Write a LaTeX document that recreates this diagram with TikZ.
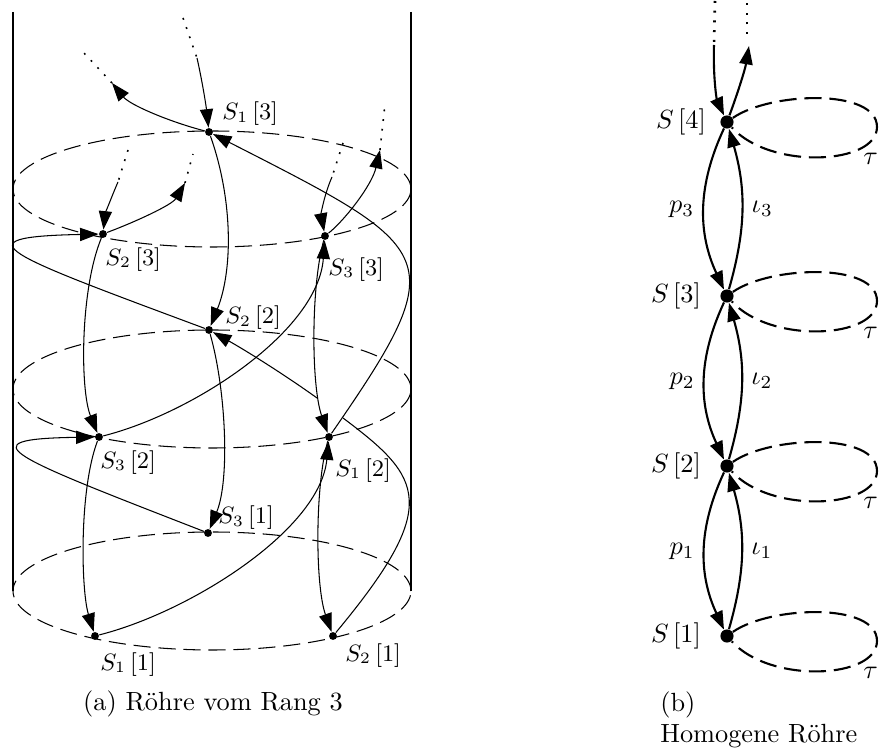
\documentclass[tikz,border=0pt]{standalone}
\usepackage{amsmath}
\usetikzlibrary{arrows.meta,positioning}

\begin{document}
\begin{tikzpicture}[
    x=0.38pt, y=0.38pt,
    vertex/.style={circle, fill, inner sep=0pt, minimum size=3pt},
    bigvertex/.style={circle, fill, inner sep=0pt, minimum size=5pt},
    lbl/.style={inner sep=1pt, font=\small},
    hlbl/.style={inner sep=1pt},
    arrow/.style={-{Triangle[length=7pt, width=5pt]}},
    cont/.style={line width=0.6pt, dash pattern=on 0.7pt off 3pt},
    ring/.style={dash pattern=on 6.5pt off 3pt},
    wall/.style={thick},
    hom/.style={thick}
  ]
  \useasboundingbox (0,0) rectangle (879,-754);

  \draw[wall] (13,-12) -- (13,-591);
  \draw[wall] (411,-12) -- (411,-591);
  \draw[ring] (212,-189) ellipse [x radius=199, y radius=58];
  \draw[ring] (212,-389) ellipse [x radius=199, y radius=59];
  \draw[ring] (212,-591) ellipse [x radius=199, y radius=59];

  \node[vertex] (s13) at (209,-132) {};
  \node[vertex] (s23) at (103,-234) {};
  \node[vertex] (s33) at (325,-236) {};
  \node[vertex] (s22) at (209,-330) {};
  \node[vertex] (s32) at (99,-437) {};
  \node[vertex] (s12) at (329,-437) {};
  \node[vertex] (s31) at (208,-533) {};
  \node[vertex] (s11) at (95,-636) {};
  \node[vertex] (s21) at (333,-636) {};

  \node[lbl, above right=0pt and 2.7pt of s13] (l13) {$S_1\,[3]$};
  \node[lbl, below right=2.7pt and -1.5pt of s23] (l23) {$S_2\,[3]$};
  \node[lbl, below right=5.7pt and -1.1pt of s33] (l33) {$S_3\,[3]$};
  \node[lbl, above right=-2.3pt and 3.8pt of s22] (l22) {$S_2\,[2]$};
  \node[lbl, below right=2.7pt and -1.9pt of s32] (l32) {$S_3\,[2]$};
  \node[lbl, below right=5.7pt and 0pt of s12] (l12) {$S_1\,[2]$};
  \node[lbl, above right=-1.1pt and 1.5pt of s31] (l31) {$S_3\,[1]$};
  \node[lbl, below right=3.8pt and -0.4pt of s11] (l11) {$S_1\,[1]$};
  \node[lbl, below right=0.4pt and 2.3pt of s21] (l21) {$S_2\,[1]$};

  \coordinate (a13) at (183,-18);
  \coordinate (b13) at (197,-58);
  \coordinate (a23) at (128,-150);
  \coordinate (b23) at (118,-182);
  \coordinate (a33) at (343,-143);
  \coordinate (b33) at (332,-177);
  \coordinate (c13) at (112,-83);
  \coordinate (d13) at (83,-52);
  \coordinate (c23) at (185,-183);
  \coordinate (d23) at (193,-154);
  \coordinate (c33) at (380,-150);
  \coordinate (d33) at (385,-104);
  \coordinate (g1) at (343,-418);
  \coordinate (g2) at (317,-398);

  \draw[cont] (a13) -- (b13);
  \draw[arrow] (b13) .. controls (202,-80) and (206,-105) .. (s13);
  \draw[cont] (a23) -- (b23);
  \draw[arrow] (b23) .. controls (111,-198) and (105,-215) .. (s23);
  \draw[cont] (a33) -- (b33);
  \draw[arrow] (b33) .. controls (324,-195) and (321,-215) .. (s33);

  \draw[arrow] (s13) .. controls (233,-200) and (233,-270) .. (s22);
  \draw[arrow] (s22) .. controls (226,-390) and (230,-480) .. (s31);
  \draw[arrow] (s23) .. controls (80,-290) and (80,-390) .. (s32);
  \draw[arrow] (s32) .. controls (79,-490) and (81,-590) .. (s11);
  \draw[arrow] (s33) .. controls (311,-285) and (311,-385) .. (s12);
  \draw[arrow] (s12) .. controls (315,-485) and (315,-585) .. (s21);

  \draw[arrow] (s13) .. controls (170,-122) and (130,-105) .. (c13);
  \draw[cont] (c13) -- (d13);
  \draw[arrow] (s23) .. controls (135,-222) and (172,-205) .. (c23);
  \draw[cont] (c23) -- (d23);
  \draw[arrow] (s33) .. controls (345,-220) and (372,-185) .. (c33);
  \draw[cont] (c33) -- (d33);

  \draw[arrow] (s11) .. controls (190,-612) and (320,-530) .. (s12);
  \draw[arrow] (s32) .. controls (194,-413) and (318,-331) .. (s33);
  \draw[arrow] (s12) .. controls (455,-255) and (440,-250) .. (s13);
  \draw (s21) .. controls (442,-505) and (423,-478) .. (g1);
  \draw[arrow] (g2) .. controls (285,-375) and (245,-350) .. (s22);
  \draw[arrow] (s22) .. controls (5,-254) and (-44,-237) .. (s23);
  \draw[arrow] (s31) .. controls (10,-456) and (-36,-439) .. (s32);

  \node[anchor=base] (capa) at (213,-711) {(a) Röhre vom Rang 3};

  \node[bigvertex] (n4) at (727,-122) {};
  \node[bigvertex] (n3) at (727,-296) {};
  \node[bigvertex] (n2) at (727,-466) {};
  \node[bigvertex] (n1) at (727,-636) {};

  \node[hlbl, left=4.1pt of n4] (m4) {$S\,[4]$};
  \node[hlbl, left=6pt of n3] (m3) {$S\,[3]$};
  \node[hlbl, left=6pt of n2] (m2) {$S\,[2]$};
  \node[hlbl, left=6pt of n1] (m1) {$S\,[1]$};

  \coordinate (ta) at (715,-1);
  \coordinate (tb) at (714,-45);
  \coordinate (tc) at (749,-46);
  \coordinate (td) at (747,-34);
  \coordinate (te) at (747,-1);
  \draw[hom, cont, line width=1pt] (ta) -- (tb);
  \draw[hom, arrow] (tb) .. controls (713,-80) and (717,-100) .. (n4);
  \draw[hom, arrow] (n4) .. controls (737,-95) and (745,-70) .. (tc);
  \draw[hom, cont, line width=1pt] (td) -- (te);

  \draw[hom, arrow] (n4) to[bend right=25] node[left] (p3) {$p_3$} (n3);
  \draw[hom, arrow] (n3) to[bend right=16] node[right] (i3) {$\iota_3$} (n4);
  \draw[hom, arrow] (n3) to[bend right=25] node[left] (p2) {$p_2$} (n2);
  \draw[hom, arrow] (n2) to[bend right=16] node[right] (i2) {$\iota_2$} (n3);
  \draw[hom, arrow] (n2) to[bend right=25] node[left] (p1) {$p_1$} (n1);
  \draw[hom, arrow] (n1) to[bend right=16] node[right] (i1) {$\iota_1$} (n2);

  \draw[hom, ring] (n4) .. controls (770,-92) and (877,-88) .. (877,-127)
    .. controls (877,-165) and (770,-170)
    .. node[pos=0.25, anchor=north west, inner sep=1pt] (t4) {$\tau$} (n4);
  \draw[hom, ring] (n3) .. controls (770,-266) and (877,-262) .. (877,-301)
    .. controls (877,-339) and (770,-344)
    .. node[pos=0.25, anchor=north west, inner sep=1pt] (t3) {$\tau$} (n3);
  \draw[hom, ring] (n2) .. controls (770,-436) and (877,-432) .. (877,-471)
    .. controls (877,-509) and (770,-514)
    .. node[pos=0.25, anchor=north west, inner sep=1pt] (t2) {$\tau$} (n2);
  \draw[hom, ring] (n1) .. controls (770,-606) and (877,-602) .. (877,-641)
    .. controls (877,-679) and (770,-684)
    .. node[pos=0.25, anchor=north west, inner sep=1pt] (t1) {$\tau$} (n1);

  \node[anchor=base west] (capb) at (651,-712) {(b)};
  \node[anchor=base west] (capc) at (651,-743) {Homogene Röhre};
\end{tikzpicture}
\end{document}
